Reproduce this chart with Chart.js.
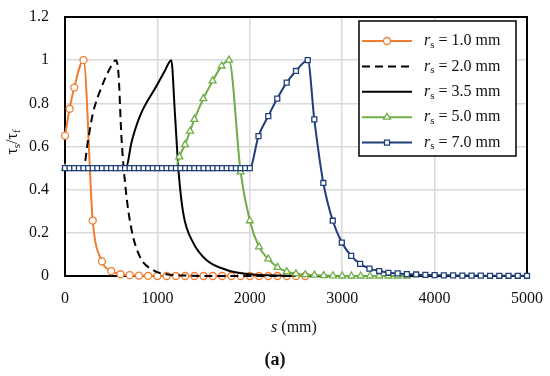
<!DOCTYPE html>
<html>
<head>
<meta charset="utf-8">
<script src="https://cdn.jsdelivr.net/npm/chart.js@4"></script>
<style>
  html, body { margin: 0; padding: 0; background: #fff; }
</style>
</head>
<body>
<canvas id="chart" width="550" height="376"></canvas>
<script>
// r_s values for the five curves
var radii = ['1.0', '2.0', '3.5', '5.0', '7.0'];

// r_s = 1.0 mm
var s10 = [0, 50, 100, 200, 300, 400, 500, 600, 700, 800, 900, 1000, 1100, 1200, 1300, 1400, 1500, 1600, 1700, 1800, 1900, 2000, 2100, 2200, 2300, 2400, 2500, 2600];
var t10 = [0.65, 0.775, 0.873, 1.0, 0.257, 0.068, 0.023, 0.008, 0.004, 0.002, 0.001, 0, 0, 0, 0, 0, 0, 0, 0, 0, 0, 0, 0, 0, 0, 0, 0, 0];

// r_s = 2.0 mm
var s20 = [0, 200, 250, 300, 400, 490, 550, 580, 610, 660, 720, 810, 950, 1100, 1300, 1600, 2000, 2500];
var t20 = [0.5, 0.5, 0.63, 0.75, 0.88, 0.965, 1.0, 0.93, 0.65, 0.39, 0.215, 0.09, 0.028, 0.008, 0.002, 0, 0, 0];

// r_s = 3.5 mm
var s35 = [0, 660, 720, 810, 990, 1080, 1150, 1190, 1230, 1280, 1390, 1530, 1750, 2000, 2200, 2500];
var t35 = [0.5, 0.5, 0.62, 0.74, 0.88, 0.95, 1.0, 0.75, 0.48, 0.29, 0.152, 0.074, 0.028, 0.008, 0.003, 0];

// r_s = 5.0 mm
var s50 = [0, 1200, 1237, 1299, 1353, 1400, 1497, 1598, 1695, 1775, 1900, 2000, 2100, 2200, 2300, 2400, 2500, 2600, 2700, 2800, 2900, 3000, 3100, 3200, 3300, 3400, 3500, 3600, 3700];
var t50 = [0.5, 0.5, 0.552, 0.609, 0.671, 0.726, 0.822, 0.904, 0.973, 1.0, 0.482, 0.256, 0.135, 0.079, 0.04, 0.02, 0.01, 0.006, 0.004, 0.002, 0.001, 0, 0, 0, 0, 0, 0, 0, 0];

// r_s = 7.0 mm
var s70 = [0, 50, 100, 150, 200, 250, 300, 350, 400, 450, 500, 550, 600, 650, 700, 750, 800, 850, 900, 950, 1000,
  1050, 1100, 1150, 1200, 1250, 1300, 1350, 1400, 1450, 1500, 1550, 1600, 1650, 1700, 1750, 1800, 1850, 1900, 1950, 2000,
  2094, 2200, 2297, 2399, 2500, 2627, 2698, 2796, 2898, 2996, 3097, 3194, 3295, 3400, 3500,
  3600, 3700, 3800, 3900, 4000, 4100, 4200, 4300, 4400, 4500, 4600, 4700, 4800, 4900, 5000];
var t70 = [0.5, 0.5, 0.5, 0.5, 0.5, 0.5, 0.5, 0.5, 0.5, 0.5, 0.5, 0.5, 0.5, 0.5, 0.5, 0.5, 0.5, 0.5, 0.5, 0.5, 0.5,
  0.5, 0.5, 0.5, 0.5, 0.5, 0.5, 0.5, 0.5, 0.5, 0.5, 0.5, 0.5, 0.5, 0.5, 0.5, 0.5, 0.5, 0.5, 0.5, 0.5,
  0.648, 0.741, 0.822, 0.896, 0.95, 1.0, 0.726, 0.431, 0.256, 0.155, 0.093, 0.056, 0.034, 0.023, 0.015,
  0.012, 0.009, 0.007, 0.005, 0.004, 0.003, 0.003, 0.002, 0.002, 0.002, 0.001, 0.001, 0.001, 0.001, 0.001];

var xTicks = [0, 1000, 2000, 3000, 4000, 5000];
var yTicks = [0, 0.2, 0.4, 0.6, 0.8, 1, 1.2];

var serif = "'Liberation Serif', 'DejaVu Serif', serif";

function pts(xs, ys) {
  return xs.map(function (x, i) { return { x: x, y: ys[i] }; });
}

var series = [
  { data: pts(s10, t10), color: '#ed7d31', style: 'circle', dash: [], order: 4 },
  { data: pts(s20, t20), color: '#000000', style: false, dash: [8, 5], order: 3 },
  { data: pts(s35, t35), color: '#000000', style: false, dash: [], order: 2 },
  { data: pts(s50, t50), color: '#70ad47', style: 'triangle', dash: [], order: 1 },
  { data: pts(s70, t70), color: '#203f7a', style: 'rect', dash: [], order: 0 }
];

var datasets = series.map(function (sr, k) {
  return {
    label: 'r_s = ' + radii[k] + ' mm',
    data: sr.data,
    order: sr.order,
    borderColor: sr.color,
    backgroundColor: '#ffffff',
    borderWidth: 2,
    borderDash: sr.dash,
    pointStyle: sr.style || 'circle',
    pointRadius: function (c) {
      if (!sr.style) return 0;
      if (k === 3 && c.dataIndex === 1) return 0;
      return sr.style === 'triangle' ? 4 : 3.5;
    },
    pointBorderColor: sr.color,
    pointBackgroundColor: '#ffffff',
    pointBorderWidth: 1.3,
    cubicInterpolationMode: 'monotone',
    showLine: true,
    fill: false,
    clip: false
  };
});

function drawRuns(c, runs, x, y, align) {
  var total = 0;
  runs.forEach(function (r) { c.font = r.font; total += c.measureText(r.t).width; });
  var cx = align === 'center' ? x - total / 2 : x;
  runs.forEach(function (r) {
    c.font = r.font;
    c.fillText(r.t, cx, y + (r.dy || 0));
    cx += c.measureText(r.t).width;
  });
}

var decor = {
  id: 'decor',
  beforeDatasetsDraw: function (chart) {
    var a = chart.chartArea, c = chart.ctx;
    c.save();
    c.strokeStyle = '#000';
    c.lineWidth = 2;
    c.strokeRect(a.left, a.top, a.right - a.left, a.bottom - a.top);
    c.restore();
  },
  afterDraw: function (chart) {
    var c = chart.ctx;
    c.save();
    c.textBaseline = 'middle';

    // legend box
    var bx = 359, by = 21, bw = 157, bh = 135;
    c.fillStyle = '#fff';
    c.fillRect(bx, by, bw, bh);
    c.strokeStyle = '#000';
    c.lineWidth = 1.5;
    c.strokeRect(bx, by, bw, bh);
    series.forEach(function (sr, k) {
      var y = 41 + k * 25.4;
      c.save();
      c.strokeStyle = sr.color;
      c.lineWidth = 2;
      c.setLineDash(sr.dash);
      c.beginPath();
      c.moveTo(362, y);
      c.lineTo(412, y);
      c.stroke();
      c.restore();
      if (sr.style) {
        c.save();
        c.fillStyle = '#fff';
        c.strokeStyle = sr.color;
        c.lineWidth = 1.3;
        Chart.helpers.drawPoint(c, { pointStyle: sr.style, radius: sr.style === 'triangle' ? 4 : 3.5, borderWidth: 1.3 }, 387, y);
        c.restore();
      }
      c.fillStyle = '#111';
      drawRuns(c, [
        { t: 'r', font: 'italic 16px ' + serif },
        { t: 's', font: '11px ' + serif, dy: 4 },
        { t: ' = ' + radii[k] + ' mm', font: '16px ' + serif }
      ], 424, y, 'left');
    });

    // axis titles
    c.fillStyle = '#111';
    drawRuns(c, [
      { t: 's', font: 'italic 16px ' + serif },
      { t: ' (mm)', font: '16px ' + serif }
    ], 294, 328, 'center');
    drawRuns(c, [{ t: '(a)', font: 'bold 18px ' + serif }], 275, 360, 'center');

    c.save();
    c.translate(13, 142);
    c.rotate(-Math.PI / 2);
    drawRuns(c, [
      { t: 'τ', font: '16px ' + serif },
      { t: 's', font: '11px ' + serif, dy: 4 },
      { t: '/τ', font: '16px ' + serif },
      { t: 'f', font: '11px ' + serif, dy: 4 }
    ], 0, 0, 'center');
    c.restore();
    c.restore();
  }
};

new Chart(document.getElementById('chart').getContext('2d'), {
  type: 'scatter',
  data: { datasets: datasets },
  plugins: [decor],
  options: {
    responsive: false,
    animation: false,
    layout: { padding: { left: 0, right: 23, top: 17, bottom: 0 } },
    plugins: { legend: { display: false }, tooltip: { enabled: false } },
    scales: {
      x: {
        type: 'linear',
        min: xTicks[0],
        max: xTicks[xTicks.length - 1],
        afterBuildTicks: function (s) { s.ticks = xTicks.map(function (v) { return { value: v }; }); },
        ticks: {
          padding: 13, color: '#111', maxRotation: 0,
          font: { family: serif, size: 16 },
          callback: function (v) { return String(v); }
        },
        grid: { color: '#d9d9d9', lineWidth: 1.5, drawTicks: false },
        border: { display: false },
        afterFit: function (s) { s.height = 100; s.paddingLeft = 0; s.paddingRight = 0; }
      },
      y: {
        min: yTicks[0],
        max: yTicks[yTicks.length - 1],
        afterBuildTicks: function (s) { s.ticks = yTicks.map(function (v) { return { value: v }; }); },
        ticks: {
          padding: 16, color: '#111',
          font: { family: serif, size: 16 },
          callback: function (v) { return String(Math.round(v * 10) / 10); }
        },
        grid: { color: '#d9d9d9', lineWidth: 1.5, drawTicks: false },
        border: { display: false },
        afterFit: function (s) { s.width = 65; s.paddingTop = 0; s.paddingBottom = 0; }
      }
    }
  }
});
</script>
</body>
</html>
